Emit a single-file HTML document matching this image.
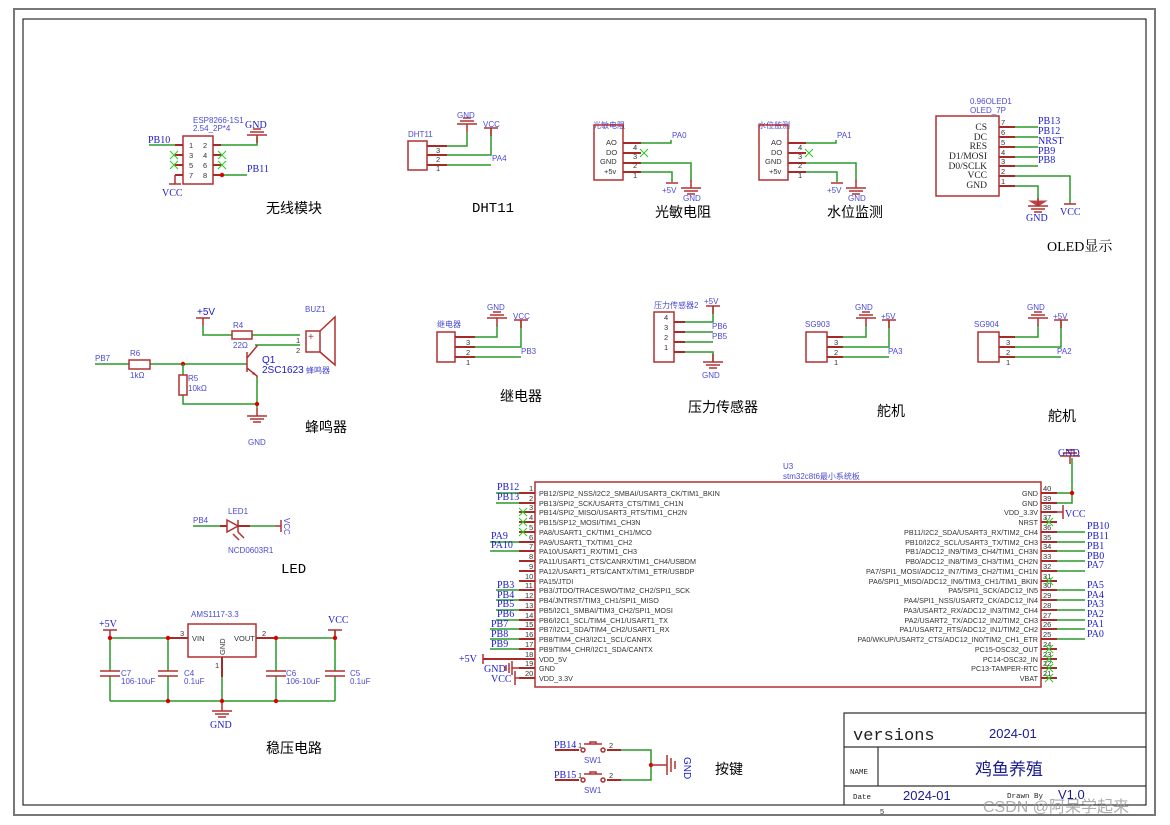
<!DOCTYPE html>
<html><head><meta charset="utf-8"><style>
html,body{margin:0;padding:0;background:#fff}
svg{display:block}
text{font-family:"Liberation Sans","Noto Sans CJK SC",sans-serif}
.b{fill:#1a1ad0;font-size:10px}
.bs{fill:#4a4ad8;font-size:8px}
.k{fill:#333;font-size:7.5px}
.t{fill:#000;font-size:14px}
.s, g.s text{font-family:"Liberation Serif","Noto Serif CJK SC",serif}
.m{font-family:"Liberation Mono",monospace}
.w{stroke:#2a9a2a;stroke-width:1.5;fill:none}
.p{stroke:#a52a2a;stroke-width:2;fill:none}
.c{stroke:#b03030;stroke-width:1.5;fill:none}
.x{stroke:#2c2;stroke-width:1;fill:none}
</style></head><body>
<svg width="1170" height="825" viewBox="0 0 1170 825" xmlns="http://www.w3.org/2000/svg">
<defs>
<g id="gd"><line x1="0" y1="-8" x2="0" y2="0" class="c"/><line x1="-10" y1="0" x2="10" y2="0" class="c"/><line x1="-7" y1="3" x2="7" y2="3" class="c"/><line x1="-4" y1="6" x2="4" y2="6" class="c"/></g>
<g id="gu"><line x1="0" y1="0" x2="0" y2="8" class="c"/><line x1="-10" y1="0" x2="10" y2="0" class="c"/><line x1="-7" y1="-3" x2="7" y2="-3" class="c"/><line x1="-4" y1="-6" x2="4" y2="-6" class="c"/></g>
<g id="bar"><line x1="0" y1="0" x2="0" y2="8" class="c"/><line x1="-7" y1="0" x2="7" y2="0" class="c"/></g>
<g id="xx"><path d="M-4,-4L4,4M-4,4L4,-4" class="x"/></g>
</defs>
<rect x="14" y="9" width="1141" height="806" fill="none" stroke="#777" stroke-width="2"/>
<rect x="23" y="19" width="1123" height="786" fill="none" stroke="#000" stroke-width="1"/>
<text x="880" y="814" class="k">5</text>

<!-- ESP8266 -->
<text x="193" y="123" class="bs">ESP8266-1S1</text><text x="193" y="131" class="bs">2.54_2P*4</text>
<rect x="183" y="136" width="30" height="48" class="c"/>
<path d="M175,145h8M175,155h8M175,165h8M175,175h8M213,145h8M213,155h8M213,165h8M213,175h8" class="p"/>
<text x="189" y="148" class="k">1</text><text x="203" y="148" class="k">2</text><text x="189" y="158" class="k">3</text><text x="203" y="158" class="k">4</text><text x="189" y="168" class="k">5</text><text x="203" y="168" class="k">6</text><text x="189" y="178" class="k">7</text><text x="203" y="178" class="k">8</text>
<path d="M149,145h26M221,145h36v-8M222,175h25" class="w"/>
<use href="#gu" x="257" y="135"/><text x="245" y="128" class="b s" font-size="12">GND</text>
<text x="148" y="143" class="b s">PB10</text><text x="247" y="172" class="b s">PB11</text>
<circle cx="222" cy="175" r="2.2" fill="#d00"/>
<path d="M175,175v9M169,184h12" class="c"/><text x="162" y="196" class="b s" font-size="12">VCC</text>
<use href="#xx" x="174" y="155"/><use href="#xx" x="174" y="165"/><use href="#xx" x="222" y="155"/><use href="#xx" x="222" y="165"/>
<text x="266" y="213" class="t">无线模块</text>

<!-- DHT11 -->
<text x="408" y="137" class="bs" fill="#222">DHT11</text>
<rect x="408" y="141" width="19" height="29" class="c"/>
<path d="M427,146h20M427,155h20M427,165h20" class="p"/>
<text x="436" y="153" class="k">3</text><text x="436" y="162" class="k">2</text><text x="436" y="171" class="k">1</text>
<path d="M447,146h20v-14M447,155h44v-27M447,165h44" class="w"/>
<use href="#gu" x="467" y="124"/><text x="457" y="118" class="bs">GND</text>
<use href="#bar" x="491" y="128"/><text x="483" y="127" class="bs">VCC</text>
<text x="492" y="161" class="bs">PA4</text>
<text x="472" y="212" class="t m" font-size="13">DHT11</text>

<!-- 光敏电阻 / 水位监测 -->
<g>
<text x="593" y="128" class="bs">光敏电阻</text>
<rect x="594" y="125" width="29" height="55" class="c"/>
<text x="606" y="145" class="k">AO</text><text x="606" y="155" class="k">DO</text><text x="600" y="164" class="k">GND</text><text x="604" y="174" class="k">+5v</text>
<path d="M623,143h18M623,153h18M623,163h18M623,172h18" class="p"/>
<text x="633" y="150" class="k">4</text><text x="633" y="159" class="k">3</text><text x="633" y="168" class="k">2</text><text x="633" y="178" class="k">1</text>
<path d="M641,143h30v-3M641,163h50v18M641,172h31v10" class="w"/>
<use href="#xx" x="644" y="153"/>
<text x="672" y="138" class="bs">PA0</text>
<use href="#gd" x="691" y="188"/><line x1="666" y1="183" x2="678" y2="183" class="c"/>
<text x="662" y="193" class="bs">+5V</text><text x="683" y="201" class="bs">GND</text>
<text x="655" y="217" class="t">光敏电阻</text>
</g>
<g transform="translate(165,0)">
<text x="593" y="128" class="bs">水位监测</text>
<rect x="594" y="125" width="29" height="55" class="c"/>
<text x="606" y="145" class="k">AO</text><text x="606" y="155" class="k">DO</text><text x="600" y="164" class="k">GND</text><text x="604" y="174" class="k">+5v</text>
<path d="M623,143h18M623,153h18M623,163h18M623,172h18" class="p"/>
<text x="633" y="150" class="k">4</text><text x="633" y="159" class="k">3</text><text x="633" y="168" class="k">2</text><text x="633" y="178" class="k">1</text>
<path d="M641,143h30v-3M641,163h50v18M641,172h31v10" class="w"/>
<use href="#xx" x="644" y="153"/>
<text x="672" y="138" class="bs">PA1</text>
<use href="#gd" x="691" y="188"/><line x1="666" y1="183" x2="678" y2="183" class="c"/>
<text x="662" y="193" class="bs">+5V</text><text x="683" y="201" class="bs">GND</text>
<text x="662" y="217" class="t">水位监测</text>
</g>

<!-- OLED -->
<text x="970" y="104" class="bs">0.96OLED1</text><text x="970" y="113" class="bs">OLED_7P</text>
<rect x="936" y="116" width="63" height="80" class="c"/>
<g class="s" font-size="9.5" fill="#222" text-anchor="end">
<text x="987" y="130">CS</text><text x="987" y="140">DC</text><text x="987" y="149">RES</text><text x="987" y="159">D1/MOSI</text><text x="987" y="169">D0/SCLK</text><text x="987" y="178">VCC</text><text x="987" y="188">GND</text></g>
<path d="M999,127h16M999,137h16M999,147h16M999,157h16M999,166h16M999,176h16M999,186h16" class="p"/>
<g class="k"><text x="1001" y="125">7</text><text x="1001" y="135">6</text><text x="1001" y="145">5</text><text x="1001" y="155">4</text><text x="1001" y="164">3</text><text x="1001" y="174">2</text><text x="1001" y="184">1</text></g>
<path d="M1015,127h23M1015,137h23M1015,147h23M1015,157h23M1015,166h23M1015,176h55v28M1015,186h23v14" class="w"/>
<g class="b s" font-size="10"><text x="1038" y="124">PB13</text><text x="1038" y="134">PB12</text><text x="1038" y="144">NRST</text><text x="1038" y="154">PB9</text><text x="1038" y="163">PB8</text></g>
<path d="M1030,201h16l-8,5z" fill="#b44" stroke="#b44"/><use href="#gd" x="1038" y="206"/>
<text x="1026" y="221" class="b s" font-size="12">GND</text>
<line x1="1064" y1="204" x2="1076" y2="204" class="c"/><text x="1060" y="215" class="b s" font-size="12">VCC</text>
<text x="1047" y="251" class="t s" font-size="13">OLED显示</text>

<!-- Buzzer -->
<text x="197" y="315" class="b">+5V</text><use href="#bar" x="203" y="318"/>
<path d="M203,326v9h29M252,335h48M255,345h45M95,364h34M150,364h97" class="w"/>
<rect x="232" y="331" width="20" height="8" class="c"/><text x="233" y="328" class="bs">R4</text><text x="233" y="348" class="bs">22Ω</text>
<rect x="129" y="360" width="21" height="9" class="c"/><text x="130" y="356" class="bs">R6</text><text x="130" y="378" class="bs">1kΩ</text>
<text x="95" y="361" class="bs">PB7</text>
<circle cx="183" cy="364" r="2.2" fill="#d00"/>
<path d="M183,364v11M183,395v9h74M257,378v30" class="w"/>
<rect x="179" y="375" width="8" height="20" class="c"/><text x="188" y="381" class="bs">R5</text><text x="188" y="391" class="bs">10kΩ</text>
<path d="M247,352v20M247,358l10,-12v-1M247,368l10,8v2" class="c"/><path d="M252,374l5,2l-3,-4z" fill="#b03030"/>
<circle cx="257" cy="404" r="2.2" fill="#d00"/>
<use href="#gd" x="257" y="416"/><text x="248" y="445" class="bs">GND</text>
<text x="262" y="363" class="b" font-size="9">Q1</text><text x="262" y="373" class="b" font-size="9">2SC1623</text>
<text x="296" y="343" class="k">1</text><text x="296" y="353" class="k">2</text>
<rect x="306" y="331" width="14" height="21" class="c"/><path d="M320,331L335,317V365L320,352" class="c"/>
<text x="308" y="340" fill="#a33" font-size="10">+</text>
<text x="305" y="312" class="bs">BUZ1</text><text x="306" y="373" class="bs" font-size="7">蜂鸣器</text>
<text x="305" y="432" class="t">蜂鸣器</text>

<!-- Relay -->
<text x="437" y="327" class="bs">继电器</text>
<rect x="437" y="332" width="18" height="30" class="c"/>
<path d="M455,337h20M455,347h20M455,357h20" class="p"/>
<text x="466" y="345" class="k">3</text><text x="466" y="355" class="k">2</text><text x="466" y="365" class="k">1</text>
<path d="M475,337h22v-12M475,347h46v-27M475,357h46" class="w"/>
<use href="#gu" x="497" y="318"/><text x="487" y="310" class="bs">GND</text>
<use href="#bar" x="521" y="320"/><text x="513" y="319" class="bs">VCC</text>
<text x="521" y="354" class="bs">PB3</text>
<text x="500" y="401" class="t">继电器</text>

<!-- Pressure -->
<text x="654" y="308" class="bs">压力传感器2</text>
<rect x="654" y="312" width="20" height="50" class="c"/>
<g class="k"><text x="664" y="320">4</text><text x="664" y="330">3</text><text x="664" y="340">2</text><text x="664" y="350">1</text></g>
<path d="M674,322h11M674,332h11M674,342h11M674,352h11" class="p"/>
<path d="M685,322h28v-16M685,332h28M685,342h28M685,352h28v10" class="w"/>
<use href="#bar" x="713" y="306"/><text x="704" y="304" class="bs">+5V</text>
<text x="712" y="329" class="bs">PB6</text><text x="712" y="339" class="bs">PB5</text>
<use href="#gd" x="713" y="362"/><text x="702" y="378" class="bs">GND</text>
<text x="688" y="412" class="t">压力传感器</text>

<!-- Servos -->
<g>
<text x="805" y="327" class="bs">SG903</text>
<rect x="806" y="332" width="21" height="30" class="c"/>
<path d="M827,337h16M827,347h16M827,357h16" class="p"/>
<text x="834" y="345" class="k">3</text><text x="834" y="355" class="k">2</text><text x="834" y="365" class="k">1</text>
<path d="M843,337h23v-12M843,347h46v-27M843,357h46" class="w"/>
<use href="#gu" x="866" y="318"/><text x="855" y="310" class="bs">GND</text>
<use href="#bar" x="889" y="320"/><text x="881" y="319" class="bs">+5V</text>
<text x="888" y="354" class="bs">PA3</text>
<text x="877" y="416" class="t">舵机</text>
</g>
<g transform="translate(172,0)">
<text x="802" y="327" class="bs">SG904</text>
<rect x="806" y="332" width="21" height="30" class="c"/>
<path d="M827,337h16M827,347h16M827,357h16" class="p"/>
<text x="834" y="345" class="k">3</text><text x="834" y="355" class="k">2</text><text x="834" y="365" class="k">1</text>
<path d="M843,337h23v-12M843,347h46v-27M843,357h46" class="w"/>
<use href="#gu" x="866" y="318"/><text x="855" y="310" class="bs">GND</text>
<use href="#bar" x="889" y="320"/><text x="881" y="319" class="bs">+5V</text>
<text x="885" y="354" class="bs">PA2</text>
<text x="876" y="421" class="t">舵机</text>
</g>

<!-- LED -->
<text x="193" y="523" class="bs">PB4</text><text x="228" y="514" class="bs">LED1</text><text x="228" y="553" class="bs">NCD0603R1</text>
<path d="M193,526h27M250,526h25" class="w"/><path d="M220,526h7M238,526h12" class="p"/>
<path d="M227,520L238,526L227,532Z M238,520v12" class="c"/>
<path d="M233,534l6,6M238,532l6,6" stroke="#a33" stroke-width="1.5"/>
<path d="M275,526h6M281,520v12" class="c"/>
<text x="284" y="518" class="bs" transform="rotate(90 284 518)">VCC</text>
<text x="281" y="573" class="t m" font-size="13">LED</text>

<!-- Regulator -->
<text x="191" y="617" class="bs">AMS1117-3.3</text>
<rect x="188" y="624" width="68" height="33" class="c"/>
<text x="192" y="641" class="k">VIN</text><text x="234" y="641" class="k">VOUT</text>
<text x="225" y="655" class="k" transform="rotate(-90 225 655)">GND</text>
<text x="180" y="636" class="k">3</text><text x="262" y="636" class="k">2</text><text x="215" y="668" class="k">1</text>
<path d="M168,638h20M256,638h20M222,657v20" class="p"/>
<path d="M110,638h58M276,638h59v-8M222,677v24M110,701h225" class="w"/>
<use href="#bar" x="335" y="630"/><text x="328" y="623" class="b s" font-size="12">VCC</text>
<use href="#bar" x="110" y="630"/><text x="99" y="627" class="b s" font-size="12">+5V</text>
<g class="w"><path d="M110,638v33M110,676v25M168,638v33M168,676v25M276,638v33M276,676v25M335,638v33M335,676v25"/></g>
<g class="c" stroke-width="2"><path d="M100,671h20M100,676h20M158,671h20M158,676h20M266,671h20M266,676h20M325,671h20M325,676h20"/></g>
<g fill="#d00"><circle cx="110" cy="638" r="2.2"/><circle cx="168" cy="638" r="2.2"/><circle cx="276" cy="638" r="2.2"/><circle cx="335" cy="638" r="2.2"/><circle cx="168" cy="701" r="2.2"/><circle cx="222" cy="701" r="2.2"/><circle cx="276" cy="701" r="2.2"/></g>
<use href="#gd" x="222" y="711"/><text x="210" y="728" class="b s" font-size="12">GND</text>
<text x="121" y="676" class="bs">C7</text><text x="121" y="684" class="bs">106-10uF</text>
<text x="184" y="676" class="bs">C4</text><text x="184" y="684" class="bs">0.1uF</text>
<text x="286" y="676" class="bs">C6</text><text x="286" y="684" class="bs">106-10uF</text>
<text x="350" y="676" class="bs">C5</text><text x="350" y="684" class="bs">0.1uF</text>
<text x="266" y="753" class="t">稳压电路</text>

<!-- Buttons -->
<g>
<text x="554" y="748" class="b s" font-size="9">PB14</text><text x="578" y="748" class="k">1</text><text x="609" y="748" class="k">2</text>
<path d="M555,750h24M607,750h14" class="p"/><path d="M621,750h30v30h-30" class="w"/>
<circle cx="583" cy="750" r="2" class="c"/><circle cx="603" cy="750" r="2" class="c"/><path d="M584,744h18M590,744v-2h6v2" class="c"/>
<text x="584" y="763" class="bs">SW1</text>
<text x="554" y="778" class="b s" font-size="9">PB15</text><text x="578" y="778" class="k">1</text><text x="609" y="778" class="k">2</text>
<path d="M555,780h24M607,780h14" class="p"/>
<circle cx="583" cy="780" r="2" class="c"/><circle cx="603" cy="780" r="2" class="c"/><path d="M584,774h18M590,774v-2h6v2" class="c"/>
<text x="584" y="793" class="bs">SW1</text>
<circle cx="651" cy="765" r="2.2" fill="#d00"/>
<path d="M651,765h16M667,755v20M671,758v14M675,761v8" class="c"/>
<text x="684" y="757" class="b" font-size="9" transform="rotate(90 684 757)">GND</text>
<text x="715" y="774" class="t">按键</text>
</g>

<!-- MCU -->
<text x="783" y="469" class="bs">U3</text><text x="783" y="479" class="bs">stm32c8t6最小系统板</text>
<rect x="535" y="482" width="506" height="205" class="c"/>
<g font-size="7.2" fill="#333">
<text x="539" y="496">PB12/SPI2_NSS/I2C2_SMBAI/USART3_CK/TIM1_BKIN</text>
<text x="539" y="506">PB13/SPI2_SCK/USART3_CTS/TIM1_CH1N</text>
<text x="539" y="515">PB14/SPI2_MISO/USART3_RTS/TIM1_CH2N</text>
<text x="539" y="525">PB15/SP12_MOSI/TIM1_CH3N</text>
<text x="539" y="535">PA8/USART1_CK/TIM1_CH1/MCO</text>
<text x="539" y="545">PA9/USART1_TX/TIM1_CH2</text>
<text x="539" y="554">PA10/USART1_RX/TIM1_CH3</text>
<text x="539" y="564">PA11/USART1_CTS/CANRX/TIM1_CH4/USBDM</text>
<text x="539" y="574">PA12/USART1_RTS/CANTX/TIM1_ETR/USBDP</text>
<text x="539" y="584">PA15/JTDI</text>
<text x="539" y="593">PB3/JTDO/TRACESWO/TIM2_CH2/SPI1_SCK</text>
<text x="539" y="603">PB4/JNTRST/TIM3_CH1/SPI1_MISO</text>
<text x="539" y="613">PB5/I2C1_SMBAI/TIM3_CH2/SPI1_MOSI</text>
<text x="539" y="623">PB6/I2C1_SCL/TIM4_CH1/USART1_TX</text>
<text x="539" y="632">PB7/I2C1_SDA/TIM4_CH2/USART1_RX</text>
<text x="539" y="642">PB8/TIM4_CH3/I2C1_SCL/CANRX</text>
<text x="539" y="652">PB9/TIM4_CHR/I2C1_SDA/CANTX</text>
<text x="539" y="662">VDD_5V</text><text x="539" y="671">GND</text><text x="539" y="681">VDD_3.3V</text>
</g>
<g font-size="7.2" fill="#333" text-anchor="end">
<text x="1038" y="496">GND</text><text x="1038" y="506">GND</text><text x="1038" y="515">VDD_3.3V</text><text x="1038" y="525">NRST</text>
<text x="1038" y="535">PB11/I2C2_SDA/USART3_RX/TIM2_CH4</text>
<text x="1038" y="545">PB10/I2C2_SCL/USART3_TX/TIM2_CH3</text>
<text x="1038" y="554">PB1/ADC12_IN9/TIM3_CH4/TIM1_CH3N</text>
<text x="1038" y="564">PB0/ADC12_IN8/TIM3_CH3/TIM1_CH2N</text>
<text x="1038" y="574">PA7/SPI1_MOSI/ADC12_IN7/TIM3_CH2/TIM1_CH1N</text>
<text x="1038" y="584">PA6/SPI1_MISO/ADC12_IN6/TIM3_CH1/TIM1_BKIN</text>
<text x="1038" y="593">PA5/SPI1_SCK/ADC12_IN5</text>
<text x="1038" y="603">PA4/SPI1_NSS/USART2_CK/ADC12_IN4</text>
<text x="1038" y="613">PA3/USART2_RX/ADC12_IN3/TIM2_CH4</text>
<text x="1038" y="623">PA2/USART2_TX/ADC12_IN2/TIM2_CH3</text>
<text x="1038" y="632">PA1/USART2_RTS/ADC12_IN1/TIM2_CH2</text>
<text x="1038" y="642">PA0/WKUP/USART2_CTS/ADC12_IN0/TIM2_CH1_ETR</text>
<text x="1038" y="652">PC15-OSC32_OUT</text><text x="1038" y="662">PC14-OSC32_IN</text><text x="1038" y="671">PC13-TAMPER-RTC</text><text x="1038" y="681">VBAT</text>
</g>
<path d="M519,493h16M519,503h16M519,512h16M519,522h16M519,532h16M519,542h16M519,551h16M519,561h16M519,571h16M519,581h16M519,590h16M519,600h16M519,610h16M519,620h16M519,629h16M519,639h16M519,649h16M519,659h16M519,668h16M519,678h16" class="p" stroke-width="1.5"/>
<path d="M1041,493h16M1041,503h16M1041,512h16M1041,522h16M1041,532h16M1041,542h16M1041,551h16M1041,561h16M1041,571h16M1041,581h16M1041,590h16M1041,600h16M1041,610h16M1041,620h16M1041,629h16M1041,639h16M1041,649h16M1041,659h16M1041,668h16M1041,678h16" class="p" stroke-width="1.5"/>
<g class="k" font-size="7"><text x="529" y="491">1</text><text x="529" y="501">2</text><text x="529" y="510">3</text><text x="529" y="520">4</text><text x="529" y="530">5</text><text x="529" y="540">6</text><text x="529" y="549">7</text><text x="529" y="559">8</text><text x="529" y="569">9</text><text x="525" y="579">10</text><text x="525" y="588">11</text><text x="525" y="598">12</text><text x="525" y="608">13</text><text x="525" y="618">14</text><text x="525" y="627">15</text><text x="525" y="637">16</text><text x="525" y="647">17</text><text x="525" y="657">18</text><text x="525" y="666">19</text><text x="525" y="676">20</text>
<text x="1043" y="491">40</text><text x="1043" y="501">39</text><text x="1043" y="510">38</text><text x="1043" y="520">37</text><text x="1043" y="530">36</text><text x="1043" y="540">35</text><text x="1043" y="549">34</text><text x="1043" y="559">33</text><text x="1043" y="569">32</text><text x="1043" y="579">31</text><text x="1043" y="588">30</text><text x="1043" y="598">29</text><text x="1043" y="608">28</text><text x="1043" y="618">27</text><text x="1043" y="627">26</text><text x="1043" y="637">25</text><text x="1043" y="647">24</text><text x="1043" y="657">23</text><text x="1043" y="666">22</text><text x="1043" y="676">21</text></g>
<path d="M496,493h23M496,503h23M490,542h29M490,551h29M496,590h23M496,600h23M496,610h23M496,620h23M490,629h29M490,639h29M490,649h29M500,659h19" class="w"/>
<path d="M519,659h-36" class="p" stroke-width="1.5"/><path d="M483,654v10" class="c"/>
<g class="b s" font-size="10"><text x="497" y="490">PB12</text><text x="497" y="500">PB13</text><text x="491" y="539">PA9</text><text x="491" y="548">PA10</text><text x="497" y="588">PB3</text><text x="497" y="598">PB4</text><text x="497" y="607">PB5</text><text x="497" y="617">PB6</text><text x="491" y="627">PB7</text><text x="491" y="637">PB8</text><text x="491" y="647">PB9</text></g>
<text x="459" y="662" class="b s" font-size="12">+5V</text>
<path d="M519,668h-7M512,661v14M509,663v10M506,665v6" class="c"/><text x="484" y="672" class="b s" font-size="12">GND</text>
<path d="M519,678h-4M515,671v14" class="c"/><text x="491" y="682" class="b s" font-size="12">VCC</text>
<use href="#xx" x="523" y="512"/><use href="#xx" x="523" y="522"/><use href="#xx" x="523" y="532"/>
<path d="M1057,493h15M1057,503h15v-45" class="w"/><circle cx="1072" cy="493" r="2.2" fill="#d00"/>
<use href="#gu" x="1070" y="456"/><text x="1058" y="456" class="b s" font-size="12">GND</text>
<path d="M1057,512h6M1063,505v14" class="c"/><text x="1065" y="517" class="b s" font-size="12">VCC</text>
<path d="M1057,532h28M1057,542h28M1057,551h28M1057,561h28M1057,571h28M1057,590h28M1057,600h28M1057,610h28M1057,620h28M1057,629h28M1057,639h28" class="w"/>
<g class="b s" font-size="10"><text x="1087" y="529">PB10</text><text x="1087" y="539">PB11</text><text x="1087" y="549">PB1</text><text x="1087" y="559">PB0</text><text x="1087" y="568">PA7</text><text x="1087" y="588">PA5</text><text x="1087" y="598">PA4</text><text x="1087" y="607">PA3</text><text x="1087" y="617">PA2</text><text x="1087" y="627">PA1</text><text x="1087" y="637">PA0</text></g>
<use href="#xx" x="1049" y="522"/><use href="#xx" x="1049" y="581"/><use href="#xx" x="1049" y="649"/><use href="#xx" x="1049" y="659"/><use href="#xx" x="1049" y="668"/><use href="#xx" x="1049" y="678"/>

<!-- Title block -->
<path d="M844,805V713H1146M844,747H1146M844,786H1146M878,747V786" fill="none" stroke="#333" stroke-width="1.2"/>
<text x="853" y="740" class="m" font-size="17" fill="#222">versions</text>
<text x="989" y="738" font-size="13" fill="#1a1a90">2024-01</text>
<text x="850" y="774" class="m" font-size="7.5" fill="#222">NAME</text>
<text x="975" y="775" font-size="17" fill="#1a1a90">鸡鱼养殖</text>
<text x="853" y="799" class="m" font-size="7.5" fill="#222">Date</text>
<text x="903" y="800" font-size="13" fill="#1a1a90">2024-01</text>
<text x="1007" y="798" class="m" font-size="7.5" fill="#222">Drawn By</text>
<text x="1058" y="799" font-size="13" fill="#1a1a90">V1.0</text>
<text x="983" y="812" font-size="16" fill="#999" fill-opacity="0.8">CSDN @阿呆学起来</text>
</svg>
</body></html>
